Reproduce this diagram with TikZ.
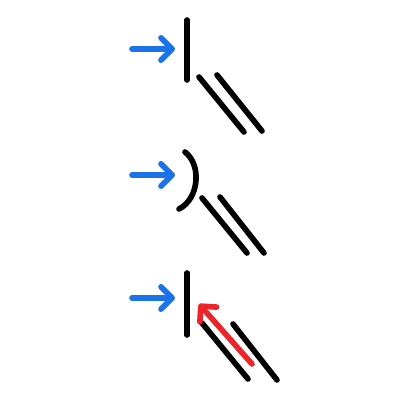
\documentclass[tikz,border=0pt]{standalone}
\usetikzlibrary{arrows.meta}
\definecolor{pushblue}{RGB}{26,115,232}
\definecolor{pullred}{RGB}{234,38,42}
\tikzset{
  wire/.style={line width=4pt, line cap=round, black},
  push/.style={line width=4pt, line cap=round, pushblue,
    -{Straight Barb[length=2.8mm,width=5.6mm,line cap=round,line join=round]}},
  pull/.style={line width=4pt, line cap=round, pullred,
    -{Straight Barb[length=2.8mm,width=5.6mm,line cap=round,line join=round]}}
}
\begin{document}
\begin{tikzpicture}[x=0.025cm,y=-0.025cm]
  \useasboundingbox (0,0) rectangle (400,400);
  % top: flat wall
  \coordinate (a0) at (132,49);
  \coordinate (a1) at (175,49);
  \coordinate (w0) at (187,20);
  \coordinate (w1) at (187,80);
  \coordinate (p0) at (199,77);
  \coordinate (p1) at (244,132);
  \coordinate (q0) at (217,75);
  \coordinate (q1) at (262,131);
  \draw[push] (a0) -- (a1);
  \draw[wire] (w0) -- (w1);
  \draw[wire] (p0) -- (p1);
  \draw[wire] (q0) -- (q1);
  % middle: curved wall
  \coordinate (b0) at (132,175);
  \coordinate (b1) at (175,175);
  \coordinate (c0) at (185,152);
  \coordinate (c1) at (179,209);
  \coordinate (r0) at (202,198);
  \coordinate (r1) at (247,253);
  \coordinate (s0) at (220,197);
  \coordinate (s1) at (264,253);
  \draw[push] (b0) -- (b1);
  \draw[wire] (c0) .. controls (202,165) and (199,199) .. (c1);
  \draw[wire] (r0) -- (r1);
  \draw[wire] (s0) -- (s1);
  % bottom: flat wall with return
  \coordinate (d0) at (132,298);
  \coordinate (d1) at (175,298);
  \coordinate (v0) at (187,273);
  \coordinate (v1) at (187,335);
  \coordinate (t0) at (202,323);
  \coordinate (t1) at (248,379);
  \coordinate (u0) at (233,324);
  \coordinate (u1) at (277,380);
  \coordinate (e0) at (252,364);
  \coordinate (e1) at (199,304);
  \draw[push] (d0) -- (d1);
  \draw[wire] (v0) -- (v1);
  \draw[wire] (t0) -- (t1);
  \draw[wire] (u0) -- (u1);
  \draw[pull] (e0) -- (e1);
\end{tikzpicture}
\end{document}
